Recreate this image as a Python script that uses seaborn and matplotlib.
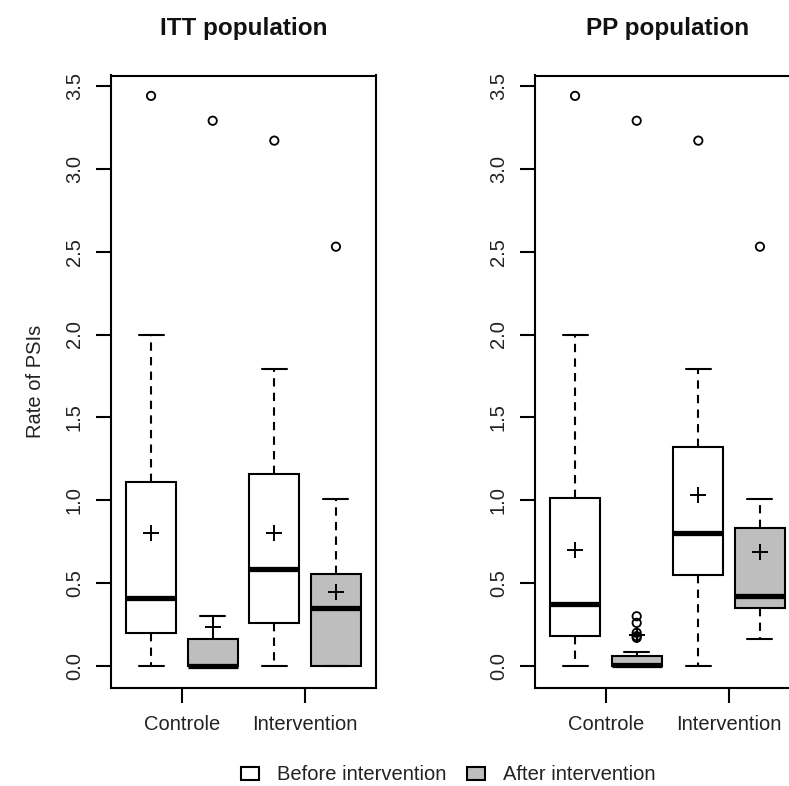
import numpy as np
import pandas as pd
import matplotlib
matplotlib.use("Agg")
import matplotlib.pyplot as plt
from matplotlib.patches import Patch
import seaborn as sns

# --- data ---
groups = ["Controle", "Intervention"]
periods = ["Before intervention", "After intervention"]
titles = ["ITT population", "PP population"]

# box order: Controle/Before, Controle/After, Intervention/Before, Intervention/After
itt_whislo = [0.00, 0.00, 0.00, 0.00]
itt_q1 = [0.20, 0.00, 0.26, 0.00]
itt_med = [0.41, 0.00, 0.585, 0.35]
itt_q3 = [1.11, 0.16, 1.16, 0.555]
itt_whishi = [2.00, 0.30, 1.79, 1.01]
itt_mean = [0.80, 0.235, 0.80, 0.445]
itt_outliers = [[3.44], [3.29], [3.17], [2.53]]

pp_whislo = [0.00, 0.00, 0.00, 0.16]
pp_q1 = [0.18, 0.00, 0.55, 0.35]
pp_med = [0.375, 0.003, 0.80, 0.42]
pp_q3 = [1.015, 0.062, 1.32, 0.83]
pp_whishi = [2.00, 0.085, 1.79, 1.01]
pp_mean = [0.70, 0.185, 1.03, 0.69]
pp_outliers = [[3.44], [0.30, 0.26, 0.20, 0.18, 0.17, 3.29], [3.17], [2.53]]

y_ticks = [0.0, 0.5, 1.0, 1.5, 2.0, 2.5, 3.0, 3.5]

FILL = {"Before intervention": "white", "After intervention": "#BEBEBE"}
box_keys = [f"{g} / {p}" for g in groups for p in periods]
box_period = [p for g in groups for p in periods]


def build_frames(whislo, q1, med, q3, whishi, mean, outliers):
    # five values per box so that quartiles and whisker ends match the picture
    rows, mrows, orows = [], [], []
    for i, key in enumerate(box_keys):
        for v in (whislo[i], q1[i], med[i], q3[i], whishi[i]):
            rows.append({"box": key, "period": box_period[i], "value": v})
        mrows.append({"box": key, "value": mean[i]})
        for v in outliers[i]:
            orows.append({"box": key, "value": v})
    return pd.DataFrame(rows), pd.DataFrame(mrows), pd.DataFrame(orows)


sns.set_theme(style="ticks")
plt.rcParams["font.family"] = ["Liberation Sans", "DejaVu Sans"]

fig = plt.figure(figsize=(7.89, 7.86), dpi=100)
W, H = 789, 786
ax_l = fig.add_axes([111 / W, (H - 688) / H, 265 / W, 612.5 / H])
ax_r = fig.add_axes([535 / W, (H - 688) / H, 265 / W, 612.5 / H])

panels = [
    (ax_l, build_frames(itt_whislo, itt_q1, itt_med, itt_q3, itt_whishi, itt_mean, itt_outliers)),
    (ax_r, build_frames(pp_whislo, pp_q1, pp_med, pp_q3, pp_whishi, pp_mean, pp_outliers)),
]

for k, (ax, (df, mdf, odf)) in enumerate(panels):
    sns.boxplot(
        data=df, x="box", y="value", hue="period", order=box_keys,
        hue_order=periods, palette=FILL, whis=(0, 100), width=0.81,
        dodge=False, legend=False, ax=ax, linecolor="black", linewidth=1.5,
        fliersize=0,
        whiskerprops={"linestyle": (0, (4, 3)), "linewidth": 1.5},
        medianprops={"linewidth": 3.8, "color": "black"},
        capprops={"linewidth": 1.5},
    )
    sns.stripplot(
        data=odf, x="box", y="value", order=box_keys, jitter=False,
        marker="o", size=6, facecolor="none", edgecolor="black",
        linewidth=1.3, color="black", ax=ax,
    )
    sns.stripplot(
        data=mdf, x="box", y="value", order=box_keys, jitter=False,
        marker="+", size=11, linewidth=1.4, color="black", ax=ax,
    )

    ax.set_xlim(-0.65, 3.65)
    ax.set_ylim(-0.133, 3.563)
    ax.set_yticks(y_ticks)
    ax.set_yticklabels([f"{t:.1f}" for t in y_ticks])
    ax.set_xticks([0.5, 2.5])
    ax.set_xticklabels(groups)
    ax.set_xlabel("")
    ax.set_ylabel("")
    for side in ["top", "right", "left", "bottom"]:
        ax.spines[side].set_visible(True)
        ax.spines[side].set_linewidth(1.5)
        ax.spines[side].set_color("black")
    ax.tick_params(axis="both", direction="out", length=10.5, width=1.5,
                   color="black", labelsize=14.5, labelcolor="#222222", pad=9)
    ax.tick_params(axis="y", labelrotation=90)
    for lab in ax.get_yticklabels():
        lab.set_verticalalignment("center")
    ax.set_title(titles[k], fontsize=17.5, fontweight="bold", pad=29, color="#111111")

ax_l.set_ylabel("Rate of PSIs", fontsize=14.5, color="#222222")
ax_l.yaxis.set_label_coords(-0.25, 0.5)

handles = [Patch(facecolor=FILL[p], edgecolor="black", linewidth=1.5) for p in periods]
fig.legend(handles, periods, loc="center", bbox_to_anchor=(448 / W, 11 / H),
           ncol=2, frameon=False, fontsize=14.5, handlelength=0.9,
           handleheight=0.6, handletextpad=0.9, columnspacing=1.0,
           labelcolor="#222222")

fig.savefig("out.png", dpi=100)
